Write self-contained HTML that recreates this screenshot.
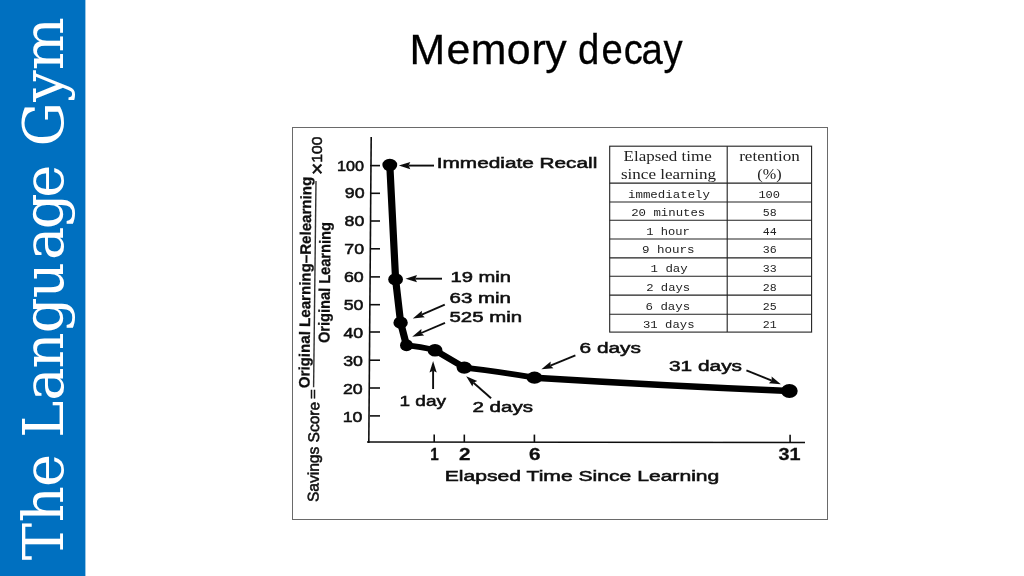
<!DOCTYPE html>
<html lang="en">
<head>
<meta charset="utf-8">
<title>Memory decay</title>
<style>
html,body{margin:0;padding:0;background:#fff;}
body{width:1024px;height:576px;position:relative;overflow:hidden;font-family:"Liberation Sans",sans-serif;}
#chart{position:absolute;left:0;top:0;width:1024px;height:576px;}
.lb{font-family:"Liberation Sans",sans-serif;fill:#111;stroke:#111;stroke-width:0.55px;}
.b{font-weight:bold;stroke-width:0.3px;}
.sf{font-family:"Liberation Serif",serif;fill:#222;}
.mn{font-family:"Liberation Mono",monospace;fill:#222;}
.ttl{font-family:"Liberation Sans",sans-serif;fill:#000;stroke:#000;stroke-width:0.25px;}
.sd{font-family:'DejaVu Serif', 'Liberation Serif', serif;fill:#fff;}
</style>
</head>
<body>
<svg id="chart" width="1024" height="576" viewBox="0 0 1024 576">
<rect id="side" x="0" y="0" width="85.4" height="576" fill="#0070c0"/>
<defs><filter id="soft" x="0" y="0" width="1024" height="576" filterUnits="userSpaceOnUse"><feGaussianBlur stdDeviation="0.45"/></filter></defs>
<text class="sd" transform="translate(63.3 562.0) rotate(-90)" font-size="56.0" x="1.72 39.83 74.93 108.53 124.33 161.21 193.63 228.80 263.75 301.91 332.65 364.18 397.78 415.51 460.15 491.88">The Language Gym</text>
<text class="ttl" transform="scale(1.03 1)" y="63.8" font-size="41.6" x="397.55 433.47 456.98 491.93 515.97 529.35">Memory</text>
<text class="ttl" transform="scale(0.92 1)" y="63.8" font-size="41.6" x="628.33 653.72 677.96 697.33 721.17">decay</text>
<rect x="292.5" y="127.5" width="535" height="392" fill="#fff" stroke="#6a6a6a" stroke-width="1"/>
<g id="fig" filter="url(#soft)">
<line x1="371.2" y1="137" x2="368.8" y2="443" stroke="#111" stroke-width="1.6"/>
<line x1="367" y1="442" x2="805" y2="442.5" stroke="#111" stroke-width="1.7"/>
<line x1="370" y1="165.6" x2="380" y2="165.6" stroke="#111" stroke-width="1.6"/>
<text class="lb" x="337.1" y="170.5" font-size="15.5" text-anchor="start" textLength="27" lengthAdjust="spacingAndGlyphs">100</text>
<line x1="370" y1="193.3" x2="380" y2="193.3" stroke="#111" stroke-width="1.6"/>
<text class="lb" x="344.75" y="198.36" font-size="15.5" text-anchor="start" textLength="19.8" lengthAdjust="spacingAndGlyphs">90</text>
<line x1="370" y1="221" x2="380" y2="221" stroke="#111" stroke-width="1.6"/>
<text class="lb" x="344.49" y="226.21" font-size="15.5" text-anchor="start" textLength="19.8" lengthAdjust="spacingAndGlyphs">80</text>
<line x1="370" y1="248.8" x2="380" y2="248.8" stroke="#111" stroke-width="1.6"/>
<text class="lb" x="344.24" y="254.16" font-size="15.5" text-anchor="start" textLength="19.8" lengthAdjust="spacingAndGlyphs">70</text>
<line x1="370" y1="276.9" x2="380" y2="276.9" stroke="#111" stroke-width="1.6"/>
<text class="lb" x="343.98" y="282.42" font-size="15.5" text-anchor="start" textLength="19.8" lengthAdjust="spacingAndGlyphs">60</text>
<line x1="370" y1="304.7" x2="380" y2="304.7" stroke="#111" stroke-width="1.6"/>
<text class="lb" x="343.72" y="310.37" font-size="15.5" text-anchor="start" textLength="19.8" lengthAdjust="spacingAndGlyphs">50</text>
<line x1="370" y1="332" x2="380" y2="332" stroke="#111" stroke-width="1.6"/>
<text class="lb" x="343.47" y="337.82" font-size="15.5" text-anchor="start" textLength="19.8" lengthAdjust="spacingAndGlyphs">40</text>
<line x1="370" y1="360.2" x2="380" y2="360.2" stroke="#111" stroke-width="1.6"/>
<text class="lb" x="343.21" y="366.17" font-size="15.5" text-anchor="start" textLength="19.8" lengthAdjust="spacingAndGlyphs">30</text>
<line x1="370" y1="388" x2="380" y2="388" stroke="#111" stroke-width="1.6"/>
<text class="lb" x="342.96" y="394.13" font-size="15.5" text-anchor="start" textLength="19.8" lengthAdjust="spacingAndGlyphs">20</text>
<line x1="370" y1="415.9" x2="380" y2="415.9" stroke="#111" stroke-width="1.6"/>
<text class="lb" x="342.7" y="422.18" font-size="15.5" text-anchor="start" textLength="19.8" lengthAdjust="spacingAndGlyphs">10</text>
<line x1="434.2" y1="434.6" x2="434.2" y2="442" stroke="#111" stroke-width="1.6"/>
<text class="lb b" x="430.2" y="460.3" font-size="16.3" text-anchor="start" textLength="8.5" lengthAdjust="spacingAndGlyphs">1</text>
<line x1="464.3" y1="434.6" x2="464.3" y2="442" stroke="#111" stroke-width="1.6"/>
<text class="lb b" x="459" y="460.3" font-size="16.3" text-anchor="start" textLength="11.5" lengthAdjust="spacingAndGlyphs">2</text>
<line x1="534.4" y1="434.6" x2="534.4" y2="442" stroke="#111" stroke-width="1.6"/>
<text class="lb b" x="529" y="460.3" font-size="16.3" text-anchor="start" textLength="11.5" lengthAdjust="spacingAndGlyphs">6</text>
<line x1="790.1" y1="434.8" x2="790.1" y2="442" stroke="#111" stroke-width="1.6"/>
<text class="lb b" x="778.5" y="460.4" font-size="16" text-anchor="start" textLength="22" lengthAdjust="spacingAndGlyphs">31</text>
<text class="lb" x="444.8" y="480.8" font-size="15.5" text-anchor="start" textLength="274.5" lengthAdjust="spacingAndGlyphs">Elapsed Time Since Learning</text>
<path d="M389.8 165 L395.6 279.4 L400.6 322.7 L406.5 345.3" fill="none" stroke="#000" stroke-width="7.2" stroke-linejoin="round" stroke-linecap="round"/>
<path d="M406.5 345.3 Q420 346.2 435 350.2" fill="none" stroke="#000" stroke-width="5.8" stroke-linejoin="round" stroke-linecap="round"/>
<path d="M435 350.2 L464.3 367.6" fill="none" stroke="#000" stroke-width="6.4" stroke-linejoin="round" stroke-linecap="round"/>
<path d="M464.3 367.6 Q498 371.4 534.5 377.7" fill="none" stroke="#000" stroke-width="5.9" stroke-linejoin="round" stroke-linecap="round"/>
<path d="M534.5 377.7 Q660 385.4 789.4 391" fill="none" stroke="#000" stroke-width="6.6" stroke-linejoin="round" stroke-linecap="round"/>
<ellipse cx="389.8" cy="165" rx="7.4" ry="6.2" fill="#000"/>
<ellipse cx="395.6" cy="279.4" rx="7.4" ry="6.2" fill="#000"/>
<ellipse cx="400.6" cy="322.7" rx="7.2" ry="6.2" fill="#000"/>
<ellipse cx="406.5" cy="345.3" rx="6.5" ry="6" fill="#000"/>
<ellipse cx="435" cy="350.2" rx="7.4" ry="6.3" fill="#000"/>
<ellipse cx="464.3" cy="367.6" rx="7.7" ry="6.1" fill="#000"/>
<ellipse cx="534.5" cy="377.7" rx="8" ry="6.1" fill="#000"/>
<ellipse cx="789.4" cy="391" rx="8.3" ry="6.9" fill="#000"/>
<line x1="434" y1="165.6" x2="408.6" y2="165.6" stroke="#111" stroke-width="1.9"/><polygon points="398.8,165.6 410.3,162.0 408.6,165.6 410.3,169.2" fill="#111"/>
<text class="lb" x="436.8" y="168.4" font-size="15.5" text-anchor="start" textLength="160.5" lengthAdjust="spacingAndGlyphs">Immediate Recall</text>
<line x1="442" y1="278.7" x2="415.3" y2="278.7" stroke="#111" stroke-width="1.9"/><polygon points="405.5,278.7 417.0,275.1 415.3,278.7 417.0,282.3" fill="#111"/>
<text class="lb" x="450.5" y="282.3" font-size="15.5" text-anchor="start" textLength="60.5" lengthAdjust="spacingAndGlyphs">19 min</text>
<line x1="444.8" y1="304.7" x2="421.8" y2="314.7" stroke="#111" stroke-width="1.9"/><polygon points="412.8,318.6 421.9,310.7 421.8,314.7 424.8,317.3" fill="#111"/>
<text class="lb" x="449.5" y="303" font-size="15.5" text-anchor="start" textLength="61.5" lengthAdjust="spacingAndGlyphs">63 min</text>
<line x1="445" y1="322.8" x2="421.2" y2="333.0" stroke="#111" stroke-width="1.9"/><polygon points="412.2,336.8 421.4,329.0 421.2,333.0 424.2,335.6" fill="#111"/>
<text class="lb" x="449.5" y="321.9" font-size="15.5" text-anchor="start" textLength="72.5" lengthAdjust="spacingAndGlyphs">525 min</text>
<line x1="433.1" y1="389" x2="433.1" y2="370.7" stroke="#111" stroke-width="1.9"/><polygon points="433.1,360.9 436.7,372.4 433.1,370.7 429.5,372.4" fill="#111"/>
<text class="lb" x="399.5" y="405.6" font-size="15.5" text-anchor="start" textLength="46.5" lengthAdjust="spacingAndGlyphs">1 day</text>
<line x1="491.1" y1="398.3" x2="473.5" y2="382.7" stroke="#111" stroke-width="1.9"/><polygon points="466.2,376.2 477.2,381.1 473.5,382.7 472.4,386.5" fill="#111"/>
<text class="lb" x="472.5" y="411.6" font-size="15.5" text-anchor="start" textLength="60.5" lengthAdjust="spacingAndGlyphs">2 days</text>
<line x1="575.4" y1="355.4" x2="550.4" y2="365.6" stroke="#111" stroke-width="1.9"/><polygon points="541.4,369.3 550.7,361.6 550.4,365.6 553.4,368.3" fill="#111"/>
<text class="lb" x="579.5" y="353.2" font-size="15.5" text-anchor="start" textLength="61.5" lengthAdjust="spacingAndGlyphs">6 days</text>
<line x1="746.4" y1="370.4" x2="771.8" y2="380.6" stroke="#111" stroke-width="1.9"/><polygon points="780.9,384.2 768.9,383.3 771.8,380.6 771.6,376.6" fill="#111"/>
<text class="lb" x="669" y="371.1" font-size="15.5" text-anchor="start" textLength="73" lengthAdjust="spacingAndGlyphs">31 days</text>
<text class="lb" transform="translate(318.5 502) rotate(-89.6)" font-size="15.5" textLength="100.2" lengthAdjust="spacingAndGlyphs">Savings Score</text>
<text class="lb" transform="translate(317.2 398.9) rotate(-90)" font-size="12" textLength="9.8" lengthAdjust="spacingAndGlyphs" fill="#888" stroke="#888">=</text>
<text class="lb b" transform="translate(309.4 388.2) rotate(-89.46)" font-size="15.2" textLength="211.4" lengthAdjust="spacingAndGlyphs">Original Learning–Relearning</text>
<line x1="313.6" y1="387.2" x2="316" y2="181" stroke="#333" stroke-width="1.4"/>
<text class="lb b" transform="translate(329.4 343.1) rotate(-89.4)" font-size="15.8" textLength="121" lengthAdjust="spacingAndGlyphs">Original Learning</text>
<text class="lb" transform="translate(322.2 175) rotate(-90)" font-size="15.5" textLength="38.5" lengthAdjust="spacingAndGlyphs"><tspan font-size="21" dy="2">×</tspan><tspan dy="-2">100</tspan></text>
<rect x="609.7" y="146.2" width="201.9" height="185.9" fill="#fff" stroke="#222" stroke-width="1.1"/>
<line x1="727.2" y1="146.2" x2="727.2" y2="332.1" stroke="#222" stroke-width="1.1"/>
<line x1="609.7" y1="183.1" x2="811.6" y2="183.1" stroke="#222" stroke-width="1.1"/>
<line x1="609.7" y1="202" x2="811.6" y2="202" stroke="#222" stroke-width="1.1"/>
<line x1="609.7" y1="220.3" x2="811.6" y2="220.3" stroke="#222" stroke-width="1.1"/>
<line x1="609.7" y1="239" x2="811.6" y2="239" stroke="#222" stroke-width="1.1"/>
<line x1="609.7" y1="257.9" x2="811.6" y2="257.9" stroke="#222" stroke-width="1.1"/>
<line x1="609.7" y1="276.2" x2="811.6" y2="276.2" stroke="#222" stroke-width="1.1"/>
<line x1="609.7" y1="295.1" x2="811.6" y2="295.1" stroke="#222" stroke-width="1.1"/>
<line x1="609.7" y1="314.2" x2="811.6" y2="314.2" stroke="#222" stroke-width="1.1"/>
<text class="sf" x="623.6" y="160.6" font-size="14" text-anchor="start" textLength="88.1" lengthAdjust="spacingAndGlyphs">Elapsed time</text>
<text class="sf" x="621" y="178.8" font-size="14" text-anchor="start" textLength="95" lengthAdjust="spacingAndGlyphs">since learning</text>
<text class="sf" x="739.2" y="160.6" font-size="14" text-anchor="start" textLength="60.6" lengthAdjust="spacingAndGlyphs">retention</text>
<text class="sf" x="757.3" y="178.8" font-size="14" text-anchor="start" textLength="24.3" lengthAdjust="spacingAndGlyphs">(%)</text>
<text class="mn" x="628" y="197.7" font-size="11.6" text-anchor="start" textLength="82" lengthAdjust="spacingAndGlyphs">immediately</text>
<text class="mn" x="758.4" y="197.7" font-size="11.6" text-anchor="start" textLength="21.6" lengthAdjust="spacingAndGlyphs">100</text>
<text class="mn" x="631.2" y="216.4" font-size="11.6" text-anchor="start" textLength="74.1" lengthAdjust="spacingAndGlyphs">20 minutes</text>
<text class="mn" x="762.7" y="216.4" font-size="11.6" text-anchor="start" textLength="13.9" lengthAdjust="spacingAndGlyphs">58</text>
<text class="mn" x="646.2" y="234.7" font-size="11.6" text-anchor="start" textLength="43.6" lengthAdjust="spacingAndGlyphs">1 hour</text>
<text class="mn" x="762.7" y="234.7" font-size="11.6" text-anchor="start" textLength="13.9" lengthAdjust="spacingAndGlyphs">44</text>
<text class="mn" x="641.9" y="253.2" font-size="11.6" text-anchor="start" textLength="52.6" lengthAdjust="spacingAndGlyphs">9 hours</text>
<text class="mn" x="762.7" y="253.2" font-size="11.6" text-anchor="start" textLength="13.9" lengthAdjust="spacingAndGlyphs">36</text>
<text class="mn" x="650.5" y="272.3" font-size="11.6" text-anchor="start" textLength="37.2" lengthAdjust="spacingAndGlyphs">1 day</text>
<text class="mn" x="762.7" y="272.3" font-size="11.6" text-anchor="start" textLength="13.9" lengthAdjust="spacingAndGlyphs">33</text>
<text class="mn" x="646.2" y="290.8" font-size="11.6" text-anchor="start" textLength="44" lengthAdjust="spacingAndGlyphs">2 days</text>
<text class="mn" x="762.7" y="290.8" font-size="11.6" text-anchor="start" textLength="13.9" lengthAdjust="spacingAndGlyphs">28</text>
<text class="mn" x="645.5" y="309.5" font-size="11.6" text-anchor="start" textLength="44.7" lengthAdjust="spacingAndGlyphs">6 days</text>
<text class="mn" x="762.7" y="309.5" font-size="11.6" text-anchor="start" textLength="13.9" lengthAdjust="spacingAndGlyphs">25</text>
<text class="mn" x="643" y="328.4" font-size="11.6" text-anchor="start" textLength="51.5" lengthAdjust="spacingAndGlyphs">31 days</text>
<text class="mn" x="762.7" y="328.4" font-size="11.6" text-anchor="start" textLength="13.9" lengthAdjust="spacingAndGlyphs">21</text>
</g>
</svg>
</body>
</html>
